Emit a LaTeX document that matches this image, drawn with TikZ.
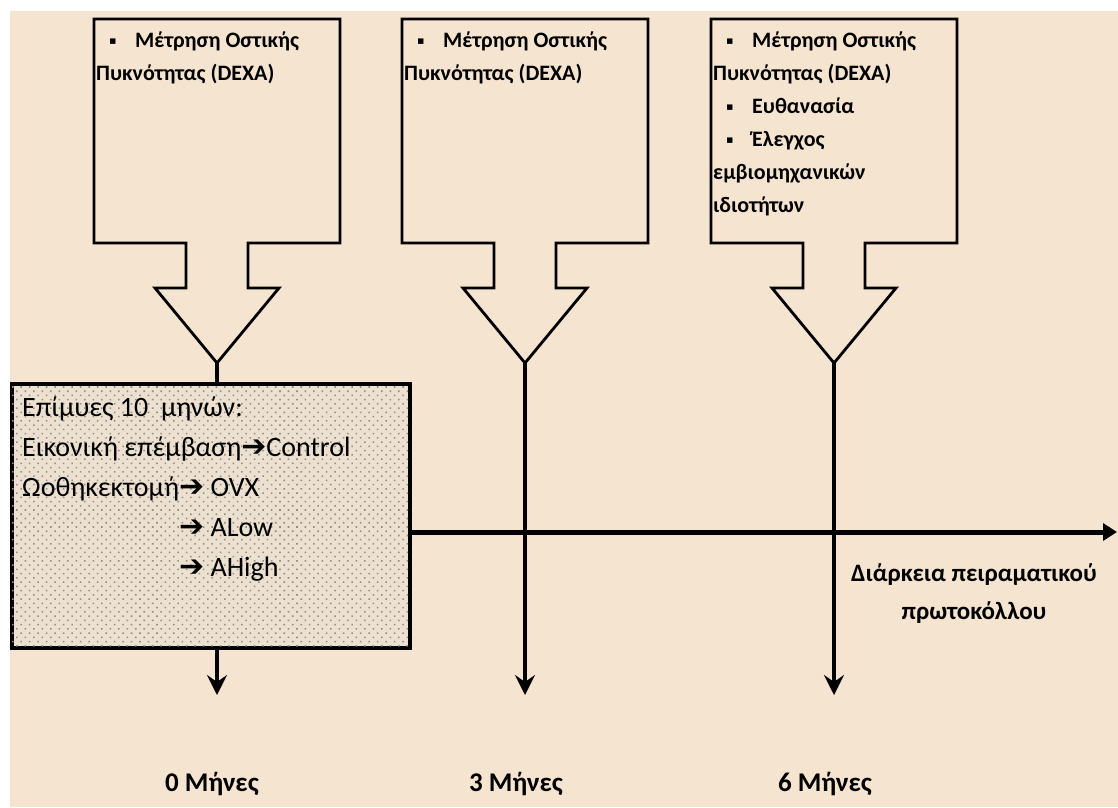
\documentclass[tikz,border=0pt]{standalone}
\usepackage{fontspec}
\setmainfont{Carlito}
\newfontfamily\symfont{DejaVu Sans}
\usepackage{tikz}
\usetikzlibrary{arrows.meta}
\usetikzlibrary{patterns.meta}

\definecolor{paper}{RGB}{245,228,207}
\definecolor{boxfill}{RGB}{236,224,208}
\definecolor{dotgray}{RGB}{150,140,128}

\newcommand{\bul}{\hspace*{13pt}\makebox[26pt][l]{\raisebox{3pt}{\symfont\fontsize{11}{11}\selectfont ▪}}}
\newcommand{\rarr}{{\symfont\bfseries\fontsize{30}{30}\selectfont ➔}}

\begin{document}
\begin{tikzpicture}
    [x=1pt,y=-1pt,line join=miter,
     callout/.style={draw=black,line width=2.8pt},
     calltext/.style={anchor=north west,align=left,inner sep=0pt,
        font=\fontsize{22}{33}\selectfont\bfseries},
     groupbox/.style={draw=black,line width=4pt,fill=boxfill,
        postaction={pattern={Dots[radius=1.1pt,distance=6pt,angle=45]},pattern color=dotgray}},
     grouptext/.style={anchor=north west,align=left,inner sep=0pt,
        font=\fontsize{28}{40}\selectfont},
     bar/.style={line width=4pt},
     down/.style={bar,-{Stealth[length=20pt,width=20pt,inset=7pt]}},
     month/.style={font=\fontsize{27}{30}\selectfont\bfseries},
     duration/.style={align=center,font=\fontsize{25}{38}\selectfont\bfseries}]
%page and background
\useasboundingbox (0,0) rectangle (1118,807);
\fill[white] (0,0) rectangle (1118,807);
\fill[paper] (10,11) rectangle (1118,807);

%the three measurement callouts
\foreach \c/\n in {217/zero,525/three,834/six}{
  \draw[callout] (\c-123,19) -- (\c+123,19) -- (\c+123,243) -- (\c+31,243)
     -- (\c+31,288) -- (\c+62,288) -- (\c,363) -- (\c-62,288) -- (\c-31,288)
     -- (\c-31,243) -- (\c-123,243) -- cycle;
  \coordinate (tip\n) at (\c,363);
  \coordinate (end\n) at (\c,695);
}
\node[calltext] (dexazero) at (96,32) {\bul Μέτρηση Οστικής\\Πυκνότητας (DEXA)};
\node[calltext] (dexathree) at (404,32) {\bul Μέτρηση Οστικής\\Πυκνότητας (DEXA)};
\node[calltext] (dexasix) at (713,32) {\bul Μέτρηση Οστικής\\Πυκνότητας (DEXA)\\
  \bul Ευθανασία\\\bul Έλεγχος\\εμβιομηχανικών\\ιδιοτήτων};

%groups box
\node[groupbox,anchor=north west,minimum width=398pt,minimum height=264pt] (groups) at (10,382) {};
\node[grouptext] (grouplist) at (22,397) {Επίμυες 10\ \ μηνών:\\
  Εικονική επέμβαση\rarr Control\\
  Ωοθηκεκτομή\rarr\ OVX\\
  \phantom{Ωοθηκεκτομή}\rarr\ ALow\\
  \phantom{Ωοθηκεκτομή}\rarr\ AHigh};

%time axis
\coordinate (tstart) at (408,532);
\coordinate (tend) at (1117,532);
\draw[line width=5pt,-{Triangle[length=14pt,width=17pt]}] (tstart) -- (tend);
\node[duration] (span) at (974,594) {Διάρκεια πειραματικού\\πρωτοκόλλου};

%vertical arrows
\draw[bar] (tipzero) -- (tipzero |- groups.north);
\draw[down] (tipzero |- groups.south) -- (endzero);
\draw[down] (tipthree) -- (endthree);
\draw[down] (tipsix) -- (endsix);

%months
\node[month] (mzero) at (212,784) {0 Μήνες};
\node[month] (mthree) at (516,784) {3 Μήνες};
\node[month] (msix) at (825,784) {6 Μήνες};
\end{tikzpicture}
\end{document}
